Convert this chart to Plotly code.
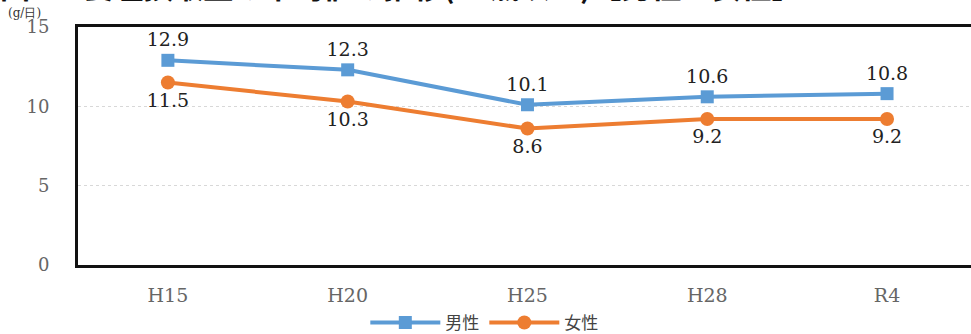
import plotly.graph_objects as go

categories = ["H15", "H20", "H25", "H28", "R4"]
male = [12.9, 12.3, 10.1, 10.6, 10.8]
female = [11.5, 10.3, 8.6, 9.2, 9.2]
male_name = "男性"
female_name = "女性"
y_ticks = [0, 5, 10, 15]
title_text = "図2-2 食塩摂取量の平均値の推移(20歳以上)【男性・女性】"
unit_text = "(g/日)"

serif = "DejaVu Serif, Liberation Serif, serif"
jp = "Noto Sans CJK JP, sans-serif"

fig = go.Figure()
fig.add_trace(go.Scatter(
    x=categories, y=male, name=male_name, mode="lines+markers+text",
    line=dict(color="#5B9BD5", width=4),
    marker=dict(symbol="square", size=13, color="#5B9BD5"),
    text=[f"{v:.1f}" for v in male], textposition="top center",
    textfont=dict(family=serif, size=19, color="#222"),
))
fig.add_trace(go.Scatter(
    x=categories, y=female, name=female_name, mode="lines+markers+text",
    line=dict(color="#ED7D31", width=4),
    marker=dict(symbol="circle", size=14, color="#ED7D31"),
    text=[f"{v:.1f}" for v in female], textposition="bottom center",
    textfont=dict(family=serif, size=19, color="#222"),
))

fig.update_layout(
    width=971, height=334,
    margin=dict(l=78, r=0, t=27, b=69, autoexpand=False),
    paper_bgcolor="white", plot_bgcolor="white",
    showlegend=True,
    legend=dict(orientation="h", x=0.455, xanchor="center", yref="container",
                y=11/334, yanchor="middle", bgcolor="rgba(0,0,0,0)",
                itemwidth=70,
                font=dict(family=jp, size=17, color="#444"),
                tracegroupgap=0),
    annotations=[
        dict(text=title_text, xref="paper", yref="paper", x=0, xanchor="left",
             xshift=-80, y=1, yanchor="bottom", yshift=18, showarrow=False,
             font=dict(family=jp, size=30, color="#111", weight="bold")),
        dict(text=unit_text, xref="paper", yref="paper", x=0, xanchor="left",
             xshift=-72, y=1, yanchor="middle", yshift=14, showarrow=False,
             font=dict(family=serif, size=12, color="#333")),
    ],
)
fig.update_xaxes(
    type="category", range=[-0.5, 4.467],
    showline=True, linecolor="#111", linewidth=3, mirror=True,
    showgrid=False, ticks="", ticklabelstandoff=11,
    tickfont=dict(family=serif, size=19, color="#666"),
)
fig.update_yaxes(
    range=[0, 15], tickvals=y_ticks,
    showline=True, linecolor="#111", linewidth=3, mirror=False,
    showgrid=True, gridcolor="#d8d8d8", griddash="dot", gridwidth=1,
    zeroline=False, ticks="", ticklabelstandoff=22,
    tickfont=dict(family=serif, size=18, color="#666"),
)

fig.write_html("out.html")
